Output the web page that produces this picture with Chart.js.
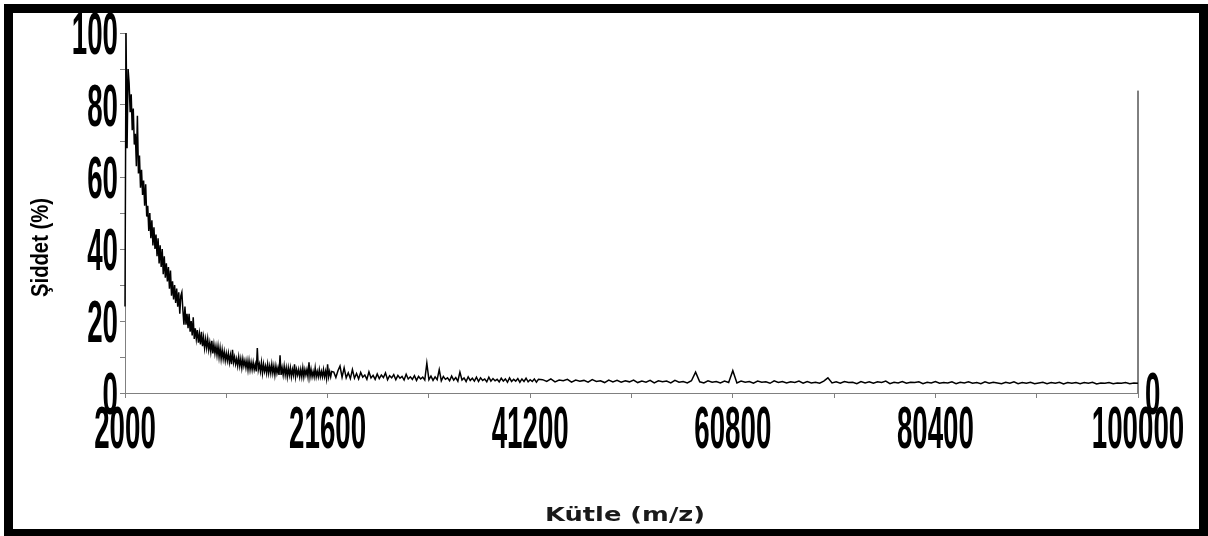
<!DOCTYPE html>
<html>
<head>
<meta charset="utf-8">
<script src="https://cdn.jsdelivr.net/npm/chart.js@4/dist/chart.umd.min.js"></script>
<style>
  html, body { margin: 0; padding: 0; background: #fff; }
  #wrap { position: relative; width: 1208px; height: 536px; overflow: hidden; }
  #frame { position: absolute; left: 4px; top: 4px; width: 1204px; height: 534px; box-sizing: border-box; border: 9px solid #000; }
  #spectrum { position: absolute; left: 0; top: 0; }
</style>
</head>
<body>
<div id="wrap">
  <div id="frame"></div>
  <canvas id="spectrum" width="1208" height="536"></canvas>
</div>
<script>
// tick labels
const massTickLabels = [2000, 21600, 41200, 60800, 80400, 100000];
const intensityTickLabels = [0, 20, 40, 60, 80, 100];

// 2000-22000 m/z, one reading every 100
const lowRangeStart = 2000;
const lowRangeStep = 100;
const lowRangeIntensity = [
  24, 100, 68, 90, 86, 78, 83, 73, 79, 69,
  72, 63, 77, 61, 66, 57, 62, 55, 59, 52,
  58, 49, 52, 45, 50, 43, 48, 41, 46, 40,
  44, 38, 43, 36, 41, 35, 40, 33, 38, 32,
  36, 31, 35, 29, 34, 27, 31, 26, 30, 25,
  29, 24, 28, 22, 27, 28, 23, 19, 24, 19,
  22, 18, 22, 17, 20, 16, 21, 15, 18, 15,
  17.5, 14, 16.5, 13.5, 17, 13, 15.5, 12.5, 15, 12.5,
  15, 12, 14, 11.5, 14.5, 11, 13.5, 11, 13, 10.5,
  13, 10, 12.5, 9.5, 12, 9.5, 11.5, 9, 11, 9,
  11, 8.5, 10.5, 8, 12, 8.5, 10, 8, 9.5, 7.5,
  10, 7.5, 9.5, 7, 9.5, 7.5, 9, 7, 9, 6.5,
  9, 6.5, 8.5, 6.5, 8.5, 6.5, 8, 6, 12.5, 6.5,
  8, 6, 8.5, 5.5, 8, 6, 7.5, 5.5, 8, 5.5,
  7.5, 5.5, 8, 5.5, 7.5, 5, 7.5, 5.5, 7, 5,
  10.5, 5, 7, 5, 7.5, 5, 7, 4.5, 7, 5,
  7, 4.5, 6.5, 5, 8, 4.5, 6.5, 5, 6.5, 4.5,
  6.5, 4.5, 7, 4.5, 6.5, 5, 6.5, 4.5, 8.5, 4.5,
  6.5, 4.5, 6, 4.5, 7, 4.5, 6, 4.5, 6.5, 4.5,
  6, 4.5, 6.5, 4.5, 6, 4, 8, 4.5, 6, 4.5,
  6
];

// 22200-42000 m/z, one reading every 200
const midRangeStart = 22200;
const midRangeStep = 200;
const midRangeIntensity = [
  5.8, 4.3, 6.2, 7.5, 4.4, 7.0, 4.2, 5.6, 4.0, 6.5,
  4.1, 5.4, 3.9, 5.7, 4.4, 5.0, 3.8, 5.9, 4.2, 4.9,
  3.8, 5.3, 4.0, 5.0, 4.3, 5.6, 3.7, 4.8, 4.2, 5.1,
  3.7, 4.9, 4.1, 4.6, 3.6, 5.2, 3.9, 4.5, 3.8, 4.8,
  3.5, 4.6, 3.9, 4.4, 3.6, 8.3, 3.7, 4.7, 3.5, 4.5,
  3.7, 6.5, 3.4, 4.6, 3.8, 4.2, 3.4, 4.7, 3.6, 4.3,
  3.3, 5.8, 3.6, 4.2, 3.2, 4.5, 3.5, 4.1, 3.3, 4.4,
  3.2, 4.2, 3.5, 3.9, 3.1, 4.4, 3.3, 4.0, 3.4, 3.8,
  3.1, 4.1, 3.3, 3.9, 3.0, 4.2, 3.2, 3.8, 3.3, 4.0,
  3.0, 3.9, 3.2, 4.1, 3.1, 3.7, 3.2, 3.9, 3.0, 3.8
];

// 42400-100000 m/z, one reading every 400
const highRangeStart = 42400;
const highRangeStep = 400;
const highRangeIntensity = [
  3.7, 3.2, 3.9, 3.1, 3.6, 3.4, 3.8, 3.0, 3.6, 3.3,
  3.5, 3.0, 3.7, 3.2, 3.4, 2.9, 3.6, 3.1, 3.5, 3.0,
  3.4, 3.1, 3.6, 2.9, 3.3, 3.0, 3.5, 2.8, 3.4, 3.1,
  3.3, 2.8, 3.5, 3.0, 3.2, 2.8, 3.4, 5.8, 3.1, 2.8,
  3.4, 3.0, 3.2, 2.8, 3.3, 2.9, 6.2, 2.8, 3.3, 3.0,
  3.2, 2.7, 3.3, 3.0, 3.1, 2.7, 3.4, 2.9, 3.2, 2.8,
  3.1, 2.9, 3.3, 2.7, 3.2, 2.8, 3.0, 2.7, 3.3, 4.2,
  2.8, 3.1, 2.7, 3.2, 2.9, 3.0, 2.6, 3.2, 2.8, 3.1,
  2.7, 3.1, 2.9, 3.3, 2.6, 3.0, 2.8, 3.2, 2.7, 3.0,
  2.9, 3.1, 2.6, 3.0, 2.8, 3.2, 2.7, 2.9, 2.8, 3.1,
  2.6, 3.0, 2.8, 3.1, 2.7, 2.9, 2.6, 3.1, 2.7, 3.0,
  2.8, 2.6, 3.0, 2.7, 3.1, 2.6, 2.9, 2.7, 3.0, 2.6,
  2.8, 3.0, 2.6, 2.9, 2.7, 3.0, 2.5, 2.9, 2.7, 2.9,
  2.6, 2.9, 2.7, 3.0, 2.5, 2.8, 2.7, 2.9, 2.6, 2.8,
  2.7, 2.9, 2.6, 2.8, 2.7
];

// vertical marker at the end of the mass range
const markerMass = 100000;
const markerIntensity = [0, 84];

const spectrum = [];
lowRangeIntensity.forEach((v, i) => spectrum.push({ x: lowRangeStart + i * lowRangeStep, y: v }));
midRangeIntensity.forEach((v, i) => spectrum.push({ x: midRangeStart + i * midRangeStep, y: v }));
highRangeIntensity.forEach((v, i) => spectrum.push({ x: highRangeStart + i * highRangeStep, y: v }));
const marker = markerIntensity.map(v => ({ x: markerMass, y: v }));

const narrowFont = "'Liberation Sans', Arial, sans-serif";

// tall narrow digits: glyphs scaled to a fixed cell size
function drawDigits(ctx, text, x, bottom, align) {
  ctx.save();
  ctx.font = 'bold 34px ' + narrowFont;
  const m = ctx.measureText('0');
  const sx = 15.4 / m.width;
  const sy = 40 / m.actualBoundingBoxAscent;
  ctx.translate(x, bottom);
  ctx.scale(sx, sy);
  ctx.textAlign = align;
  ctx.textBaseline = 'alphabetic';
  ctx.fillStyle = '#000';
  ctx.fillText(text, 0, 0);
  ctx.restore();
}

function drawFitted(ctx, text, font, cx, cy, width, angle, baseline, color) {
  ctx.save();
  ctx.font = font;
  const w = ctx.measureText(text).width;
  ctx.translate(cx, cy);
  ctx.rotate(angle);
  ctx.scale(width / w, 1);
  ctx.textAlign = 'center';
  ctx.textBaseline = baseline;
  ctx.fillStyle = color;
  ctx.fillText(text, 0, 0);
  ctx.restore();
}

const axisLabels = {
  id: 'axisLabels',
  afterDraw(chart) {
    const { ctx, chartArea, scales } = chart;
    const xs = scales.x, ys = scales.y;

    intensityTickLabels.forEach(v => {
      drawDigits(ctx, String(v), chartArea.left - 7, ys.getPixelForValue(v) + 21, 'right');
    });
    massTickLabels.forEach(v => {
      drawDigits(ctx, String(v), xs.getPixelForValue(v), chartArea.bottom + 55, 'center');
    });
    // zero of the right-hand axis
    drawDigits(ctx, '0', chartArea.right + 7, ys.getPixelForValue(0) + 21, 'left');

    drawFitted(ctx, 'Şiddet (%)', 'bold 24px ' + narrowFont,
      41, 247.5, 99, -Math.PI / 2, 'middle', '#000');
    drawFitted(ctx, 'Kütle (m/z)', "bold 19px 'DejaVu Sans', Verdana, sans-serif",
      625, 521, 160, 0, 'alphabetic', '#1a1a1a');
  }
};

const axisGrey = '#808080';

new Chart(document.getElementById('spectrum').getContext('2d'), {
  type: 'line',
  data: {
    datasets: [
      { data: spectrum, borderColor: '#000', borderWidth: 1.5, pointRadius: 0, tension: 0, clip: 4 },
      { data: marker, borderColor: '#000', borderWidth: 1, pointRadius: 0, clip: 4 }
    ]
  },
  options: {
    responsive: false,
    animation: false,
    events: [],
    layout: { padding: { left: 125, right: 70, top: 33, bottom: 143 } },
    plugins: { legend: { display: false }, tooltip: { enabled: false } },
    scales: {
      x: {
        type: 'linear',
        min: 2000,
        max: 100000,
        ticks: { stepSize: 9800, display: false },
        grid: { drawOnChartArea: false, tickLength: 5, color: axisGrey },
        border: { color: axisGrey, width: 1 },
        afterFit: s => { s.height = 0; }
      },
      y: {
        min: 0,
        max: 100,
        ticks: { stepSize: 10, display: false },
        grid: { drawOnChartArea: false, tickLength: 5, color: axisGrey },
        border: { color: axisGrey, width: 1 },
        afterFit: s => { s.width = 0; }
      }
    }
  },
  plugins: [axisLabels]
});
</script>
</body>
</html>
